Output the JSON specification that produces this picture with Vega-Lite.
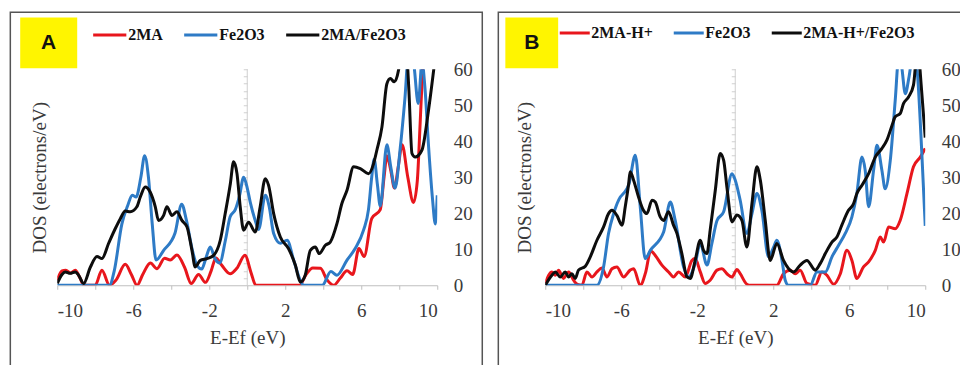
{
  "$schema": "https://vega.github.io/schema/vega-lite/v6.json",
  "background": "white",
  "padding": {"left": 9.25, "top": 11.25, "right": 0, "bottom": 0},
  "bounds": "flush",
  "spacing": 108,
  "config": {"view": {"stroke": null}},
  "datasets": {
    "a": [
      {"x": -10, "dos": 1.5, "s": "2MA"}, {"x": -9.75, "dos": 4, "s": "2MA"}, {"x": -9.55, "dos": 4.2, "s": "2MA"}, {"x": -9.3, "dos": 3.4, "s": "2MA"}, {"x": -9.05, "dos": 4.2, "s": "2MA"}, {"x": -8.8, "dos": 2, "s": "2MA"}, {"x": -8.6, "dos": 0, "s": "2MA"}, {"x": -8.0, "dos": 0, "s": "2MA"}, {"x": -7.65, "dos": 4.2, "s": "2MA"}, {"x": -7.25, "dos": 0, "s": "2MA"}, {"x": -6.9, "dos": 1.5, "s": "2MA"}, {"x": -6.42, "dos": 5.8, "s": "2MA"}, {"x": -6.1, "dos": 3, "s": "2MA"}, {"x": -5.8, "dos": 0, "s": "2MA"}, {"x": -5.5, "dos": 3, "s": "2MA"}, {"x": -5.1, "dos": 6.2, "s": "2MA"}, {"x": -4.75, "dos": 4.6, "s": "2MA"}, {"x": -4.35, "dos": 7.5, "s": "2MA"}, {"x": -4.05, "dos": 7, "s": "2MA"}, {"x": -3.7, "dos": 8.4, "s": "2MA"}, {"x": -3.3, "dos": 5, "s": "2MA"}, {"x": -2.95, "dos": 0.5, "s": "2MA"}, {"x": -2.56, "dos": 3, "s": "2MA"}, {"x": -2.2, "dos": 0.8, "s": "2MA"}, {"x": -1.9, "dos": 4, "s": "2MA"}, {"x": -1.65, "dos": 7.6, "s": "2MA"}, {"x": -1.35, "dos": 5.6, "s": "2MA"}, {"x": -0.9, "dos": 3.2, "s": "2MA"}, {"x": -0.55, "dos": 4.7, "s": "2MA"}, {"x": -0.12, "dos": 8.3, "s": "2MA"}, {"x": 0.2, "dos": 3.5, "s": "2MA"}, {"x": 0.45, "dos": 0, "s": "2MA"}, {"x": 2.75, "dos": 0, "s": "2MA"}, {"x": 3.1, "dos": 3, "s": "2MA"}, {"x": 3.45, "dos": 4.8, "s": "2MA"}, {"x": 3.85, "dos": 4.7, "s": "2MA"}, {"x": 4.2, "dos": 1.5, "s": "2MA"}, {"x": 4.55, "dos": 0, "s": "2MA"}, {"x": 4.9, "dos": 2, "s": "2MA"}, {"x": 5.25, "dos": 4, "s": "2MA"}, {"x": 5.55, "dos": 3, "s": "2MA"}, {"x": 5.88, "dos": 10.2, "s": "2MA"}, {"x": 6.15, "dos": 8, "s": "2MA"}, {"x": 6.55, "dos": 18.5, "s": "2MA"}, {"x": 7.0, "dos": 21, "s": "2MA"}, {"x": 7.2, "dos": 30, "s": "2MA"}, {"x": 7.35, "dos": 36, "s": "2MA"}, {"x": 7.55, "dos": 32, "s": "2MA"}, {"x": 7.75, "dos": 27, "s": "2MA"}, {"x": 7.95, "dos": 33, "s": "2MA"}, {"x": 8.15, "dos": 39, "s": "2MA"}, {"x": 8.45, "dos": 30, "s": "2MA"}, {"x": 8.75, "dos": 23, "s": "2MA"}, {"x": 8.95, "dos": 29, "s": "2MA"}, {"x": 9.1, "dos": 45, "s": "2MA"}, {"x": 9.25, "dos": 62, "s": "2MA"}, {"x": 9.5, "dos": 75, "s": "2MA"}, {"x": 10, "dos": 80, "s": "2MA"},

      {"x": -10, "dos": 0, "s": "Fe2O3"}, {"x": -7.25, "dos": 0, "s": "Fe2O3"}, {"x": -7.0, "dos": 4, "s": "Fe2O3"}, {"x": -6.6, "dos": 17, "s": "Fe2O3"}, {"x": -6.3, "dos": 22, "s": "Fe2O3"}, {"x": -6.05, "dos": 25, "s": "Fe2O3"}, {"x": -5.85, "dos": 24.5, "s": "Fe2O3"}, {"x": -5.6, "dos": 30, "s": "Fe2O3"}, {"x": -5.4, "dos": 36, "s": "Fe2O3"}, {"x": -5.2, "dos": 30, "s": "Fe2O3"}, {"x": -5.0, "dos": 17, "s": "Fe2O3"}, {"x": -4.8, "dos": 7, "s": "Fe2O3"}, {"x": -4.4, "dos": 9.7, "s": "Fe2O3"}, {"x": -3.8, "dos": 14.5, "s": "Fe2O3"}, {"x": -3.45, "dos": 22.5, "s": "Fe2O3"}, {"x": -3.2, "dos": 18, "s": "Fe2O3"}, {"x": -2.9, "dos": 10, "s": "Fe2O3"}, {"x": -2.65, "dos": 5.5, "s": "Fe2O3"}, {"x": -2.4, "dos": 4.5, "s": "Fe2O3"}, {"x": -2.15, "dos": 8, "s": "Fe2O3"}, {"x": -1.95, "dos": 10.6, "s": "Fe2O3"}, {"x": -1.7, "dos": 7.4, "s": "Fe2O3"}, {"x": -1.45, "dos": 6.2, "s": "Fe2O3"}, {"x": -1.15, "dos": 12.5, "s": "Fe2O3"}, {"x": -0.9, "dos": 19, "s": "Fe2O3"}, {"x": -0.63, "dos": 21, "s": "Fe2O3"}, {"x": -0.4, "dos": 25, "s": "Fe2O3"}, {"x": -0.19, "dos": 30, "s": "Fe2O3"}, {"x": 0.0, "dos": 27, "s": "Fe2O3"}, {"x": 0.16, "dos": 23, "s": "Fe2O3"}, {"x": 0.42, "dos": 18, "s": "Fe2O3"}, {"x": 0.6, "dos": 15.5, "s": "Fe2O3"}, {"x": 0.95, "dos": 25, "s": "Fe2O3"}, {"x": 1.15, "dos": 22, "s": "Fe2O3"}, {"x": 1.39, "dos": 14.4, "s": "Fe2O3"}, {"x": 1.74, "dos": 11.7, "s": "Fe2O3"}, {"x": 2.1, "dos": 12.5, "s": "Fe2O3"}, {"x": 2.44, "dos": 7, "s": "Fe2O3"}, {"x": 2.79, "dos": 1.4, "s": "Fe2O3"}, {"x": 2.95, "dos": 0, "s": "Fe2O3"}, {"x": 3.95, "dos": 0, "s": "Fe2O3"}, {"x": 4.4, "dos": 3.8, "s": "Fe2O3"}, {"x": 4.72, "dos": 2.8, "s": "Fe2O3"}, {"x": 5.25, "dos": 7, "s": "Fe2O3"}, {"x": 5.68, "dos": 10.2, "s": "Fe2O3"}, {"x": 6.12, "dos": 15.3, "s": "Fe2O3"}, {"x": 6.38, "dos": 21, "s": "Fe2O3"}, {"x": 6.55, "dos": 30, "s": "Fe2O3"}, {"x": 6.68, "dos": 35, "s": "Fe2O3"}, {"x": 6.85, "dos": 28, "s": "Fe2O3"}, {"x": 7.0, "dos": 22, "s": "Fe2O3"}, {"x": 7.35, "dos": 39, "s": "Fe2O3"}, {"x": 7.55, "dos": 33, "s": "Fe2O3"}, {"x": 7.78, "dos": 27, "s": "Fe2O3"}, {"x": 8.05, "dos": 38, "s": "Fe2O3"}, {"x": 8.3, "dos": 52, "s": "Fe2O3"}, {"x": 8.5, "dos": 65, "s": "Fe2O3"}, {"x": 8.75, "dos": 62, "s": "Fe2O3"}, {"x": 9.0, "dos": 50.5, "s": "Fe2O3"}, {"x": 9.2, "dos": 62, "s": "Fe2O3"}, {"x": 9.35, "dos": 55, "s": "Fe2O3"}, {"x": 9.55, "dos": 38, "s": "Fe2O3"}, {"x": 9.75, "dos": 24, "s": "Fe2O3"}, {"x": 9.9, "dos": 17, "s": "Fe2O3"}, {"x": 10.0, "dos": 25, "s": "Fe2O3"},

      {"x": -10, "dos": 0.5, "s": "2MA/Fe2O3"}, {"x": -9.75, "dos": 3, "s": "2MA/Fe2O3"}, {"x": -9.58, "dos": 3.7, "s": "2MA/Fe2O3"}, {"x": -9.32, "dos": 3.3, "s": "2MA/Fe2O3"}, {"x": -9.05, "dos": 3.7, "s": "2MA/Fe2O3"}, {"x": -8.88, "dos": 2.8, "s": "2MA/Fe2O3"}, {"x": -8.61, "dos": 0.5, "s": "2MA/Fe2O3"}, {"x": -8.26, "dos": 5, "s": "2MA/Fe2O3"}, {"x": -7.91, "dos": 8, "s": "2MA/Fe2O3"}, {"x": -7.65, "dos": 7.4, "s": "2MA/Fe2O3"}, {"x": -7.3, "dos": 11.6, "s": "2MA/Fe2O3"}, {"x": -6.95, "dos": 15.7, "s": "2MA/Fe2O3"}, {"x": -6.68, "dos": 18.5, "s": "2MA/Fe2O3"}, {"x": -6.42, "dos": 20.6, "s": "2MA/Fe2O3"}, {"x": -6.16, "dos": 20.4, "s": "2MA/Fe2O3"}, {"x": -5.81, "dos": 21.8, "s": "2MA/Fe2O3"}, {"x": -5.63, "dos": 24.5, "s": "2MA/Fe2O3"}, {"x": -5.37, "dos": 27.3, "s": "2MA/Fe2O3"}, {"x": -5.11, "dos": 25.9, "s": "2MA/Fe2O3"}, {"x": -4.84, "dos": 21.8, "s": "2MA/Fe2O3"}, {"x": -4.67, "dos": 18, "s": "2MA/Fe2O3"}, {"x": -4.4, "dos": 19.4, "s": "2MA/Fe2O3"}, {"x": -4.23, "dos": 21.8, "s": "2MA/Fe2O3"}, {"x": -3.96, "dos": 19.4, "s": "2MA/Fe2O3"}, {"x": -3.7, "dos": 20.4, "s": "2MA/Fe2O3"}, {"x": -3.44, "dos": 18, "s": "2MA/Fe2O3"}, {"x": -3.17, "dos": 16.2, "s": "2MA/Fe2O3"}, {"x": -2.91, "dos": 9.7, "s": "2MA/Fe2O3"}, {"x": -2.74, "dos": 5.1, "s": "2MA/Fe2O3"}, {"x": -2.47, "dos": 6.9, "s": "2MA/Fe2O3"}, {"x": -2.12, "dos": 7.4, "s": "2MA/Fe2O3"}, {"x": -1.77, "dos": 8.3, "s": "2MA/Fe2O3"}, {"x": -1.42, "dos": 12.5, "s": "2MA/Fe2O3"}, {"x": -1.16, "dos": 19.9, "s": "2MA/Fe2O3"}, {"x": -0.89, "dos": 28.2, "s": "2MA/Fe2O3"}, {"x": -0.72, "dos": 34.3, "s": "2MA/Fe2O3"}, {"x": -0.54, "dos": 31, "s": "2MA/Fe2O3"}, {"x": -0.37, "dos": 21.8, "s": "2MA/Fe2O3"}, {"x": -0.19, "dos": 15.3, "s": "2MA/Fe2O3"}, {"x": 0.07, "dos": 17.5, "s": "2MA/Fe2O3"}, {"x": 0.42, "dos": 14.8, "s": "2MA/Fe2O3"}, {"x": 0.68, "dos": 21.8, "s": "2MA/Fe2O3"}, {"x": 0.95, "dos": 29.6, "s": "2MA/Fe2O3"}, {"x": 1.12, "dos": 27.8, "s": "2MA/Fe2O3"}, {"x": 1.39, "dos": 19.9, "s": "2MA/Fe2O3"}, {"x": 1.74, "dos": 13.4, "s": "2MA/Fe2O3"}, {"x": 2.17, "dos": 10.2, "s": "2MA/Fe2O3"}, {"x": 2.53, "dos": 5.6, "s": "2MA/Fe2O3"}, {"x": 2.79, "dos": 0.9, "s": "2MA/Fe2O3"}, {"x": 3.05, "dos": 2.8, "s": "2MA/Fe2O3"}, {"x": 3.32, "dos": 9.7, "s": "2MA/Fe2O3"}, {"x": 3.58, "dos": 10.6, "s": "2MA/Fe2O3"}, {"x": 3.79, "dos": 8.8, "s": "2MA/Fe2O3"}, {"x": 4.11, "dos": 11.1, "s": "2MA/Fe2O3"}, {"x": 4.37, "dos": 12, "s": "2MA/Fe2O3"}, {"x": 4.72, "dos": 17.1, "s": "2MA/Fe2O3"}, {"x": 4.98, "dos": 22.7, "s": "2MA/Fe2O3"}, {"x": 5.25, "dos": 26.4, "s": "2MA/Fe2O3"}, {"x": 5.6, "dos": 32.9, "s": "2MA/Fe2O3"}, {"x": 5.95, "dos": 32.4, "s": "2MA/Fe2O3"}, {"x": 6.38, "dos": 31, "s": "2MA/Fe2O3"}, {"x": 6.65, "dos": 33.8, "s": "2MA/Fe2O3"}, {"x": 6.82, "dos": 37.5, "s": "2MA/Fe2O3"}, {"x": 7.09, "dos": 44, "s": "2MA/Fe2O3"}, {"x": 7.35, "dos": 56, "s": "2MA/Fe2O3"}, {"x": 7.53, "dos": 57.4, "s": "2MA/Fe2O3"}, {"x": 7.74, "dos": 56.5, "s": "2MA/Fe2O3"}, {"x": 7.96, "dos": 59.7, "s": "2MA/Fe2O3"}, {"x": 8.1, "dos": 66, "s": "2MA/Fe2O3"}, {"x": 8.3, "dos": 70, "s": "2MA/Fe2O3"}, {"x": 8.5, "dos": 55, "s": "2MA/Fe2O3"}, {"x": 8.67, "dos": 36.6, "s": "2MA/Fe2O3"}, {"x": 8.84, "dos": 35.6, "s": "2MA/Fe2O3"}, {"x": 9.19, "dos": 37.5, "s": "2MA/Fe2O3"}, {"x": 9.54, "dos": 48.6, "s": "2MA/Fe2O3"}, {"x": 9.81, "dos": 59.7, "s": "2MA/Fe2O3"}, {"x": 10, "dos": 68, "s": "2MA/Fe2O3"}
    ],
    "b": [
      {"x": -10, "dos": 0.5, "s": "2MA-H+"}, {"x": -9.65, "dos": 3.7, "s": "2MA-H+"}, {"x": -9.47, "dos": 2.8, "s": "2MA-H+"}, {"x": -9.3, "dos": 4.2, "s": "2MA-H+"}, {"x": -9.04, "dos": 1.9, "s": "2MA-H+"}, {"x": -8.77, "dos": 3.7, "s": "2MA-H+"}, {"x": -8.51, "dos": 1.4, "s": "2MA-H+"}, {"x": -8.3, "dos": 0.2, "s": "2MA-H+"}, {"x": -8.07, "dos": 0, "s": "2MA-H+"}, {"x": -7.81, "dos": 3.7, "s": "2MA-H+"}, {"x": -7.54, "dos": 2.3, "s": "2MA-H+"}, {"x": -7.28, "dos": 3.7, "s": "2MA-H+"}, {"x": -7.02, "dos": 4.8, "s": "2MA-H+"}, {"x": -6.75, "dos": 2.3, "s": "2MA-H+"}, {"x": -6.49, "dos": 4.6, "s": "2MA-H+"}, {"x": -6.23, "dos": 5.1, "s": "2MA-H+"}, {"x": -5.88, "dos": 2.3, "s": "2MA-H+"}, {"x": -5.53, "dos": 4.2, "s": "2MA-H+"}, {"x": -5.35, "dos": 4.6, "s": "2MA-H+"}, {"x": -5.0, "dos": 0, "s": "2MA-H+"}, {"x": -4.72, "dos": 3.5, "s": "2MA-H+"}, {"x": -4.45, "dos": 9.5, "s": "2MA-H+"}, {"x": -4.2, "dos": 8.2, "s": "2MA-H+"}, {"x": -3.86, "dos": 5.6, "s": "2MA-H+"}, {"x": -3.51, "dos": 3.7, "s": "2MA-H+"}, {"x": -3.25, "dos": 2.3, "s": "2MA-H+"}, {"x": -2.98, "dos": 3.7, "s": "2MA-H+"}, {"x": -2.63, "dos": 2.3, "s": "2MA-H+"}, {"x": -2.28, "dos": 6.9, "s": "2MA-H+"}, {"x": -2.11, "dos": 7.4, "s": "2MA-H+"}, {"x": -1.84, "dos": 3.7, "s": "2MA-H+"}, {"x": -1.58, "dos": 0.5, "s": "2MA-H+"}, {"x": -1.32, "dos": 1.4, "s": "2MA-H+"}, {"x": -0.96, "dos": 4.2, "s": "2MA-H+"}, {"x": -0.7, "dos": 4.6, "s": "2MA-H+"}, {"x": -0.44, "dos": 3.2, "s": "2MA-H+"}, {"x": -0.17, "dos": 2.3, "s": "2MA-H+"}, {"x": 0.09, "dos": 4.4, "s": "2MA-H+"}, {"x": 0.26, "dos": 3.2, "s": "2MA-H+"}, {"x": 0.61, "dos": 0.3, "s": "2MA-H+"}, {"x": 0.8, "dos": 0, "s": "2MA-H+"}, {"x": 2.19, "dos": 0, "s": "2MA-H+"}, {"x": 2.54, "dos": 3.2, "s": "2MA-H+"}, {"x": 2.89, "dos": 4.2, "s": "2MA-H+"}, {"x": 3.16, "dos": 3.2, "s": "2MA-H+"}, {"x": 3.42, "dos": 4.2, "s": "2MA-H+"}, {"x": 3.77, "dos": 0.5, "s": "2MA-H+"}, {"x": 4.21, "dos": 0, "s": "2MA-H+"}, {"x": 4.56, "dos": 3.7, "s": "2MA-H+"}, {"x": 4.82, "dos": 2.8, "s": "2MA-H+"}, {"x": 5.18, "dos": 0.3, "s": "2MA-H+"}, {"x": 5.53, "dos": 3.2, "s": "2MA-H+"}, {"x": 5.88, "dos": 9.7, "s": "2MA-H+"}, {"x": 6.14, "dos": 6.9, "s": "2MA-H+"}, {"x": 6.4, "dos": 1.9, "s": "2MA-H+"}, {"x": 6.75, "dos": 5.1, "s": "2MA-H+"}, {"x": 7.02, "dos": 6.5, "s": "2MA-H+"}, {"x": 7.37, "dos": 9.7, "s": "2MA-H+"}, {"x": 7.63, "dos": 13.4, "s": "2MA-H+"}, {"x": 7.81, "dos": 12, "s": "2MA-H+"}, {"x": 8.07, "dos": 16.2, "s": "2MA-H+"}, {"x": 8.42, "dos": 15.7, "s": "2MA-H+"}, {"x": 8.68, "dos": 18, "s": "2MA-H+"}, {"x": 9.04, "dos": 25.5, "s": "2MA-H+"}, {"x": 9.38, "dos": 32.9, "s": "2MA-H+"}, {"x": 9.74, "dos": 35.6, "s": "2MA-H+"}, {"x": 10, "dos": 38, "s": "2MA-H+"},

      {"x": -10, "dos": 0, "s": "Fe2O3"}, {"x": -7.28, "dos": 0, "s": "Fe2O3"}, {"x": -6.93, "dos": 5.1, "s": "Fe2O3"}, {"x": -6.67, "dos": 14.4, "s": "Fe2O3"}, {"x": -6.4, "dos": 19.9, "s": "Fe2O3"}, {"x": -6.05, "dos": 24.5, "s": "Fe2O3"}, {"x": -5.88, "dos": 25.5, "s": "Fe2O3"}, {"x": -5.6, "dos": 28, "s": "Fe2O3"}, {"x": -5.26, "dos": 36.1, "s": "Fe2O3"}, {"x": -5.0, "dos": 21.8, "s": "Fe2O3"}, {"x": -4.74, "dos": 7.4, "s": "Fe2O3"}, {"x": -4.47, "dos": 9.7, "s": "Fe2O3"}, {"x": -3.77, "dos": 14.8, "s": "Fe2O3"}, {"x": -3.42, "dos": 23.1, "s": "Fe2O3"}, {"x": -3.16, "dos": 18, "s": "Fe2O3"}, {"x": -2.72, "dos": 5.1, "s": "Fe2O3"}, {"x": -2.46, "dos": 2.3, "s": "Fe2O3"}, {"x": -2.11, "dos": 6, "s": "Fe2O3"}, {"x": -1.84, "dos": 11.6, "s": "Fe2O3"}, {"x": -1.49, "dos": 5.6, "s": "Fe2O3"}, {"x": -1.23, "dos": 11.6, "s": "Fe2O3"}, {"x": -0.96, "dos": 18, "s": "Fe2O3"}, {"x": -0.61, "dos": 20.4, "s": "Fe2O3"}, {"x": -0.17, "dos": 31, "s": "Fe2O3"}, {"x": 0.0, "dos": 29.2, "s": "Fe2O3"}, {"x": 0.26, "dos": 23.6, "s": "Fe2O3"}, {"x": 0.61, "dos": 14.4, "s": "Fe2O3"}, {"x": 0.88, "dos": 19.9, "s": "Fe2O3"}, {"x": 1.14, "dos": 25.5, "s": "Fe2O3"}, {"x": 1.4, "dos": 20.8, "s": "Fe2O3"}, {"x": 1.75, "dos": 7.9, "s": "Fe2O3"}, {"x": 2.02, "dos": 10.6, "s": "Fe2O3"}, {"x": 2.19, "dos": 12.5, "s": "Fe2O3"}, {"x": 2.46, "dos": 6.9, "s": "Fe2O3"}, {"x": 2.63, "dos": 1.4, "s": "Fe2O3"}, {"x": 2.8, "dos": 0, "s": "Fe2O3"}, {"x": 3.95, "dos": 0, "s": "Fe2O3"}, {"x": 4.3, "dos": 3.7, "s": "Fe2O3"}, {"x": 4.74, "dos": 3.7, "s": "Fe2O3"}, {"x": 5.09, "dos": 7.9, "s": "Fe2O3"}, {"x": 5.44, "dos": 11.1, "s": "Fe2O3"}, {"x": 5.79, "dos": 14.4, "s": "Fe2O3"}, {"x": 6.14, "dos": 19, "s": "Fe2O3"}, {"x": 6.4, "dos": 25.5, "s": "Fe2O3"}, {"x": 6.67, "dos": 35.6, "s": "Fe2O3"}, {"x": 6.84, "dos": 31.9, "s": "Fe2O3"}, {"x": 7.02, "dos": 21.8, "s": "Fe2O3"}, {"x": 7.28, "dos": 31.9, "s": "Fe2O3"}, {"x": 7.46, "dos": 38.9, "s": "Fe2O3"}, {"x": 7.72, "dos": 31.9, "s": "Fe2O3"}, {"x": 7.89, "dos": 26.8, "s": "Fe2O3"}, {"x": 8.16, "dos": 34.7, "s": "Fe2O3"}, {"x": 8.42, "dos": 51.4, "s": "Fe2O3"}, {"x": 8.6, "dos": 63, "s": "Fe2O3"}, {"x": 8.75, "dos": 61, "s": "Fe2O3"}, {"x": 8.95, "dos": 53.2, "s": "Fe2O3"}, {"x": 9.15, "dos": 58, "s": "Fe2O3"}, {"x": 9.4, "dos": 66, "s": "Fe2O3"}, {"x": 9.6, "dos": 58, "s": "Fe2O3"}, {"x": 9.82, "dos": 36.6, "s": "Fe2O3"}, {"x": 10.0, "dos": 16.5, "s": "Fe2O3"},

      {"x": -10, "dos": 0, "s": "2MA-H+/Fe2O3"}, {"x": -9.65, "dos": 2.8, "s": "2MA-H+/Fe2O3"}, {"x": -9.47, "dos": 3.7, "s": "2MA-H+/Fe2O3"}, {"x": -9.21, "dos": 2.3, "s": "2MA-H+/Fe2O3"}, {"x": -8.95, "dos": 3.7, "s": "2MA-H+/Fe2O3"}, {"x": -8.77, "dos": 2.3, "s": "2MA-H+/Fe2O3"}, {"x": -8.6, "dos": 3.2, "s": "2MA-H+/Fe2O3"}, {"x": -8.42, "dos": 1.9, "s": "2MA-H+/Fe2O3"}, {"x": -8.25, "dos": 4.2, "s": "2MA-H+/Fe2O3"}, {"x": -7.89, "dos": 5.3, "s": "2MA-H+/Fe2O3"}, {"x": -7.63, "dos": 7.9, "s": "2MA-H+/Fe2O3"}, {"x": -7.28, "dos": 12.5, "s": "2MA-H+/Fe2O3"}, {"x": -6.93, "dos": 16.2, "s": "2MA-H+/Fe2O3"}, {"x": -6.67, "dos": 19.9, "s": "2MA-H+/Fe2O3"}, {"x": -6.49, "dos": 20.8, "s": "2MA-H+/Fe2O3"}, {"x": -6.23, "dos": 19.4, "s": "2MA-H+/Fe2O3"}, {"x": -5.96, "dos": 16.7, "s": "2MA-H+/Fe2O3"}, {"x": -5.79, "dos": 21.8, "s": "2MA-H+/Fe2O3"}, {"x": -5.61, "dos": 28.2, "s": "2MA-H+/Fe2O3"}, {"x": -5.53, "dos": 31.5, "s": "2MA-H+/Fe2O3"}, {"x": -5.35, "dos": 29.2, "s": "2MA-H+/Fe2O3"}, {"x": -5.09, "dos": 24.5, "s": "2MA-H+/Fe2O3"}, {"x": -4.83, "dos": 20.8, "s": "2MA-H+/Fe2O3"}, {"x": -4.65, "dos": 19.9, "s": "2MA-H+/Fe2O3"}, {"x": -4.38, "dos": 23.6, "s": "2MA-H+/Fe2O3"}, {"x": -4.21, "dos": 23.1, "s": "2MA-H+/Fe2O3"}, {"x": -3.95, "dos": 19, "s": "2MA-H+/Fe2O3"}, {"x": -3.77, "dos": 18, "s": "2MA-H+/Fe2O3"}, {"x": -3.51, "dos": 20.4, "s": "2MA-H+/Fe2O3"}, {"x": -3.25, "dos": 16.7, "s": "2MA-H+/Fe2O3"}, {"x": -3.07, "dos": 14.4, "s": "2MA-H+/Fe2O3"}, {"x": -2.81, "dos": 8.8, "s": "2MA-H+/Fe2O3"}, {"x": -2.54, "dos": 2.3, "s": "2MA-H+/Fe2O3"}, {"x": -2.37, "dos": 1.9, "s": "2MA-H+/Fe2O3"}, {"x": -2.11, "dos": 6.9, "s": "2MA-H+/Fe2O3"}, {"x": -1.84, "dos": 12.5, "s": "2MA-H+/Fe2O3"}, {"x": -1.67, "dos": 9.7, "s": "2MA-H+/Fe2O3"}, {"x": -1.49, "dos": 8.8, "s": "2MA-H+/Fe2O3"}, {"x": -1.32, "dos": 15.3, "s": "2MA-H+/Fe2O3"}, {"x": -1.05, "dos": 26.4, "s": "2MA-H+/Fe2O3"}, {"x": -0.79, "dos": 36.6, "s": "2MA-H+/Fe2O3"}, {"x": -0.61, "dos": 34.7, "s": "2MA-H+/Fe2O3"}, {"x": -0.44, "dos": 27.3, "s": "2MA-H+/Fe2O3"}, {"x": -0.17, "dos": 17.6, "s": "2MA-H+/Fe2O3"}, {"x": 0.09, "dos": 19.5, "s": "2MA-H+/Fe2O3"}, {"x": 0.35, "dos": 18, "s": "2MA-H+/Fe2O3"}, {"x": 0.61, "dos": 10.6, "s": "2MA-H+/Fe2O3"}, {"x": 0.88, "dos": 22.7, "s": "2MA-H+/Fe2O3"}, {"x": 1.14, "dos": 32.9, "s": "2MA-H+/Fe2O3"}, {"x": 1.32, "dos": 29.2, "s": "2MA-H+/Fe2O3"}, {"x": 1.58, "dos": 18, "s": "2MA-H+/Fe2O3"}, {"x": 1.84, "dos": 6.9, "s": "2MA-H+/Fe2O3"}, {"x": 2.19, "dos": 11.6, "s": "2MA-H+/Fe2O3"}, {"x": 2.54, "dos": 6.9, "s": "2MA-H+/Fe2O3"}, {"x": 2.81, "dos": 4.6, "s": "2MA-H+/Fe2O3"}, {"x": 3.07, "dos": 3.7, "s": "2MA-H+/Fe2O3"}, {"x": 3.42, "dos": 5.6, "s": "2MA-H+/Fe2O3"}, {"x": 3.77, "dos": 6.9, "s": "2MA-H+/Fe2O3"}, {"x": 4.21, "dos": 4.2, "s": "2MA-H+/Fe2O3"}, {"x": 4.47, "dos": 6, "s": "2MA-H+/Fe2O3"}, {"x": 4.74, "dos": 8.8, "s": "2MA-H+/Fe2O3"}, {"x": 5.09, "dos": 12, "s": "2MA-H+/Fe2O3"}, {"x": 5.35, "dos": 13.4, "s": "2MA-H+/Fe2O3"}, {"x": 5.61, "dos": 16.7, "s": "2MA-H+/Fe2O3"}, {"x": 5.96, "dos": 20.8, "s": "2MA-H+/Fe2O3"}, {"x": 6.23, "dos": 22.7, "s": "2MA-H+/Fe2O3"}, {"x": 6.4, "dos": 25.5, "s": "2MA-H+/Fe2O3"}, {"x": 6.67, "dos": 27.8, "s": "2MA-H+/Fe2O3"}, {"x": 7.02, "dos": 31, "s": "2MA-H+/Fe2O3"}, {"x": 7.37, "dos": 35.6, "s": "2MA-H+/Fe2O3"}, {"x": 7.72, "dos": 38, "s": "2MA-H+/Fe2O3"}, {"x": 7.98, "dos": 40.3, "s": "2MA-H+/Fe2O3"}, {"x": 8.25, "dos": 44.4, "s": "2MA-H+/Fe2O3"}, {"x": 8.42, "dos": 46.8, "s": "2MA-H+/Fe2O3"}, {"x": 8.68, "dos": 47.7, "s": "2MA-H+/Fe2O3"}, {"x": 8.86, "dos": 50.5, "s": "2MA-H+/Fe2O3"}, {"x": 9.12, "dos": 52.3, "s": "2MA-H+/Fe2O3"}, {"x": 9.38, "dos": 55.6, "s": "2MA-H+/Fe2O3"}, {"x": 9.55, "dos": 63, "s": "2MA-H+/Fe2O3"}, {"x": 9.68, "dos": 62, "s": "2MA-H+/Fe2O3"}, {"x": 9.78, "dos": 56, "s": "2MA-H+/Fe2O3"}, {"x": 10.0, "dos": 41, "s": "2MA-H+/Fe2O3"}
    ]
  },
  "resolve": {
    "scale": {"x": "independent", "y": "independent", "color": "independent"},
    "legend": {"color": "independent"}
  },
  "hconcat": [
    {
      "width": 380,
      "height": 216,
      "resolve": {"axis": {"x": "independent", "y": "independent"}},
      "layer": [
        {
          "data": {"values": [{}]},
          "mark": {"type": "rect", "fill": "transparent", "stroke": "#555555", "strokeWidth": 1.5},
          "encoding": {
            "x": {"datum": -12.47, "type": "quantitative", "scale": {"domain": [-10, 10], "nice": false, "zero": false}, "axis": null},
            "x2": {"datum": 12.37},
            "y": {"datum": -25, "type": "quantitative", "scale": {"domain": [0, 60], "nice": false, "zero": false}, "axis": null},
            "y2": {"datum": 75.8}
          }
        },
        {
          "data": {"values": [{}]},
          "mark": {"type": "rect", "fill": "#FFF500"},
          "encoding": {
            "x": {"datum": -11.95, "type": "quantitative", "axis": null},
            "x2": {"datum": -8.95},
            "y": {"datum": 60.3, "type": "quantitative", "axis": {"orient": "left", "title": "DOS (electrons/eV)", "domain": false, "ticks": false, "labels": false, "grid": false, "titleFont": "Liberation Serif", "titleFontSize": 19, "titleFontWeight": "normal", "titleColor": "#3a3a3a", "titlePadding": 8}},
            "y2": {"datum": 74.4}
          }
        },
        {
          "data": {"values": [{}]},
          "mark": {"type": "text", "text": "A", "font": "Liberation Sans", "fontWeight": "bold", "fontSize": 21, "color": "#111111", "align": "center", "baseline": "middle"},
          "encoding": {
            "x": {"datum": -10.45, "type": "quantitative", "axis": null},
            "y": {"datum": 67.3, "type": "quantitative", "axis": null}
          }
        },
        {
          "data": {"values": [{}]},
          "mark": {"type": "rule", "color": "#cfcfcf", "strokeWidth": 1},
          "encoding": {
            "x": {"datum": 0, "type": "quantitative", "axis": null},
            "y": {"datum": 0, "type": "quantitative", "axis": {"orient": "left", "offset": -190, "domain": false, "ticks": true, "tickColor": "#d0d0d0", "tickSize": 4, "labels": false, "grid": false, "title": null, "values": [2,4,6,8,10,12,14,16,18,20,22,24,26,28,30,32,34,36,38,40,42,44,46,48,50,52,54,56,58,60]}},
            "y2": {"datum": 60}
          }
        },
        {
          "data": {"name": "a"},
          "mark": {"type": "line", "interpolate": "monotone", "strokeWidth": 3, "clip": true},
          "encoding": {
            "x": {"field": "x", "type": "quantitative", "axis": {"orient": "bottom", "values": [-10,-8,-6,-4,-2,0,2,4,6,8,10], "labelExpr": "abs(datum.value % 4) == 2 ? '' + datum.value : ''", "labelOverlap": false, "domainColor": "#bfbfbf", "tickColor": "#bfbfbf", "tickSize": 4, "grid": false, "labelFont": "Liberation Serif", "labelFontSize": 19, "labelColor": "#3a3a3a", "labelPadding": 12, "title": "E-Ef (eV)", "titleFont": "Liberation Serif", "titleFontSize": 19, "titleFontWeight": "normal", "titleColor": "#3a3a3a", "titlePadding": 8}},
            "y": {"field": "dos", "type": "quantitative", "axis": {"orient": "right", "values": [0,10,20,30,40,50,60], "domain": false, "ticks": false, "grid": false, "labelFont": "Liberation Serif", "labelFontSize": 19, "labelColor": "#3a3a3a", "labelPadding": 16, "title": null}},
            "color": {"field": "s", "type": "nominal", "sort": null, "scale": {"domain": ["2MA", "Fe2O3", "2MA/Fe2O3"], "range": ["#E8161C", "#2E7BC6", "#0d0d0d"]},
              "legend": {"orient": "none", "legendX": 34, "legendY": -53, "direction": "horizontal", "title": null, "symbolType": "stroke", "symbolStrokeWidth": 3, "symbolSize": 1100, "labelFont": "Liberation Serif", "labelFontWeight": "bold", "labelFontSize": 16, "labelColor": "#111111", "labelOffset": 0, "columnPadding": 14}}
          }
        }
      ]
    },
    {
      "width": 380,
      "height": 216,
      "resolve": {"axis": {"x": "independent", "y": "independent"}},
      "layer": [
        {
          "data": {"values": [{}]},
          "mark": {"type": "rect", "fill": "transparent", "stroke": "#555555", "strokeWidth": 1.5},
          "encoding": {
            "x": {"datum": -12.47, "type": "quantitative", "scale": {"domain": [-10, 10], "nice": false, "zero": false}, "axis": null},
            "x2": {"datum": 12.4},
            "y": {"datum": -25, "type": "quantitative", "scale": {"domain": [0, 60], "nice": false, "zero": false}, "axis": null},
            "y2": {"datum": 75.8}
          }
        },
        {
          "data": {"values": [{}]},
          "mark": {"type": "rect", "fill": "#FFF500"},
          "encoding": {
            "x": {"datum": -12.1, "type": "quantitative", "axis": null},
            "x2": {"datum": -9.32},
            "y": {"datum": 60.3, "type": "quantitative", "axis": {"orient": "left", "title": "DOS (electrons/eV)", "domain": false, "ticks": false, "labels": false, "grid": false, "titleFont": "Liberation Serif", "titleFontSize": 19, "titleFontWeight": "normal", "titleColor": "#3a3a3a", "titlePadding": 11}},
            "y2": {"datum": 74.4}
          }
        },
        {
          "data": {"values": [{}]},
          "mark": {"type": "text", "text": "B", "font": "Liberation Sans", "fontWeight": "bold", "fontSize": 21, "color": "#111111", "align": "center", "baseline": "middle"},
          "encoding": {
            "x": {"datum": -10.71, "type": "quantitative", "axis": null},
            "y": {"datum": 67.3, "type": "quantitative", "axis": null}
          }
        },
        {
          "data": {"values": [{}]},
          "mark": {"type": "rule", "color": "#cfcfcf", "strokeWidth": 1},
          "encoding": {
            "x": {"datum": 0, "type": "quantitative", "axis": null},
            "y": {"datum": 0, "type": "quantitative", "axis": {"orient": "left", "offset": -190, "domain": false, "ticks": true, "tickColor": "#d0d0d0", "tickSize": 4, "labels": false, "grid": false, "title": null, "values": [2,4,6,8,10,12,14,16,18,20,22,24,26,28,30,32,34,36,38,40,42,44,46,48,50,52,54,56,58,60]}},
            "y2": {"datum": 60}
          }
        },
        {
          "data": {"name": "b"},
          "mark": {"type": "line", "interpolate": "monotone", "strokeWidth": 3, "clip": true},
          "encoding": {
            "x": {"field": "x", "type": "quantitative", "axis": {"orient": "bottom", "values": [-10,-8,-6,-4,-2,0,2,4,6,8,10], "labelExpr": "abs(datum.value % 4) == 2 ? '' + datum.value : ''", "labelOverlap": false, "domainColor": "#bfbfbf", "tickColor": "#bfbfbf", "tickSize": 4, "grid": false, "labelFont": "Liberation Serif", "labelFontSize": 19, "labelColor": "#3a3a3a", "labelPadding": 12, "title": "E-Ef (eV)", "titleFont": "Liberation Serif", "titleFontSize": 19, "titleFontWeight": "normal", "titleColor": "#3a3a3a", "titlePadding": 8}},
            "y": {"field": "dos", "type": "quantitative", "axis": {"orient": "right", "values": [0,10,20,30,40,50,60], "domain": false, "ticks": false, "grid": false, "labelFont": "Liberation Serif", "labelFontSize": 19, "labelColor": "#3a3a3a", "labelPadding": 16, "title": null}},
            "color": {"field": "s", "type": "nominal", "sort": null, "scale": {"domain": ["2MA-H+", "Fe2O3", "2MA-H+/Fe2O3"], "range": ["#E8161C", "#2E7BC6", "#0d0d0d"]},
              "legend": {"orient": "none", "legendX": 13, "legendY": -53, "direction": "horizontal", "title": null, "symbolType": "stroke", "symbolStrokeWidth": 3, "symbolSize": 900, "labelFont": "Liberation Serif", "labelFontWeight": "bold", "labelFontSize": 16, "labelColor": "#111111", "labelOffset": 0, "columnPadding": 14}}
          }
        }
      ]
    }
  ]
}
